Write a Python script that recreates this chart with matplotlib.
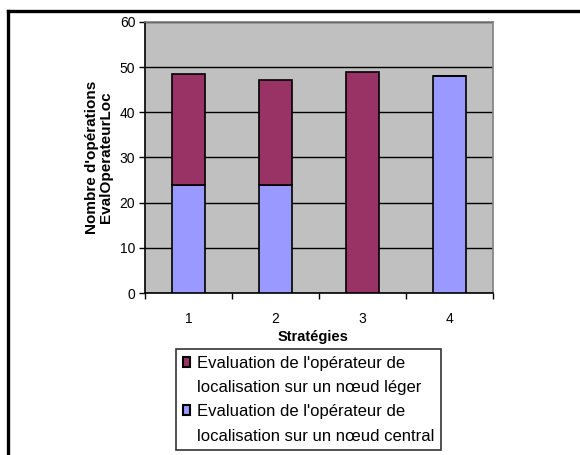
import numpy as np
import matplotlib.pyplot as plt
from matplotlib.patches import Rectangle
from matplotlib.lines import Line2D

plt.rcParams["font.family"] = ["Liberation Sans", "DejaVu Sans"]

strategies = ["1", "2", "3", "4"]
central = [24, 24, 0, 48]
leger = [24.5, 23.2, 48.8, 0]
series_names = [
    "Evaluation de l'opérateur de\nlocalisation sur un nœud léger",
    "Evaluation de l'opérateur de\nlocalisation sur un nœud central",
]
col_leger = "#993366"
col_central = "#9999FF"

fig = plt.figure(figsize=(5.8, 4.55), dpi=100)
ax = fig.add_axes([0.25, 0.356, 0.6, 0.596])
ax.set_facecolor("#C0C0C0")

x = np.arange(1, len(strategies) + 1)
ax.bar(x, central, width=0.39, color=col_central, edgecolor="black", linewidth=1.2, zorder=3)
ax.bar(x, leger, width=0.39, bottom=central, color=col_leger, edgecolor="black", linewidth=1.2, zorder=3)

ax.set_xlim(0.5, 4.5)
ax.set_ylim(0, 60)
ax.set_yticks(range(0, 61, 10))
ax.yaxis.grid(True, color="black", linewidth=1.0, zorder=1)
ax.set_axisbelow(True)

ax.set_xticks(x)
ax.set_xticklabels(strategies)
ax.set_xticks(np.arange(0.5, 4.6, 1), minor=True)
ax.tick_params(axis="x", which="major", length=0, pad=14, labelsize=10)
ax.tick_params(axis="x", which="minor", length=4, width=1, direction="out")
ax.tick_params(axis="y", length=4, width=1, direction="out", labelsize=10, pad=3)

for s in ["top", "right"]:
    ax.spines[s].set_color("#808080")
    ax.spines[s].set_linewidth(1.2)
ax.spines["left"].set_linewidth(1.2)
ax.spines["bottom"].set_linewidth(1.2)

ax.set_xlabel("Stratégies", fontsize=10.5, fontweight="bold", labelpad=3)
ax.xaxis.set_label_coords(0.483, -0.135)
ax.set_ylabel("Nombre d'opérations\nEvalOperateurLoc", fontsize=11, fontweight="bold", labelpad=5, linespacing=0.95)

# legend: squares next to the first line of each entry
handles = [
    Rectangle((0, 0), 1, 1, facecolor=col_leger, edgecolor="black", linewidth=1.5),
    Rectangle((0, 0), 1, 1, visible=False),
    Rectangle((0, 0), 1, 1, facecolor=col_central, edgecolor="black", linewidth=1.5),
    Rectangle((0, 0), 1, 1, visible=False),
]
labels = series_names[0].split("\n") + series_names[1].split("\n")
leg = fig.legend(
    handles, labels,
    loc="upper left", bbox_to_anchor=(176 / 580, 1 - 349 / 455),
    frameon=True, fancybox=False, edgecolor="black", fontsize=12,
    handlelength=0.45, handleheight=0.55, handletextpad=0.4,
    labelspacing=0.56, borderpad=0.4, borderaxespad=0,
)
leg.get_frame().set_linewidth(1.2)

# page frame lines
fig.add_artist(Line2D([8 / 580, 8 / 580], [0, 1 - 11 / 455], color="black", linewidth=2.4))
fig.add_artist(Line2D([8 / 580, 1], [1 - 11 / 455, 1 - 11 / 455], color="black", linewidth=2.4))

fig.savefig("out.png", dpi=100)
